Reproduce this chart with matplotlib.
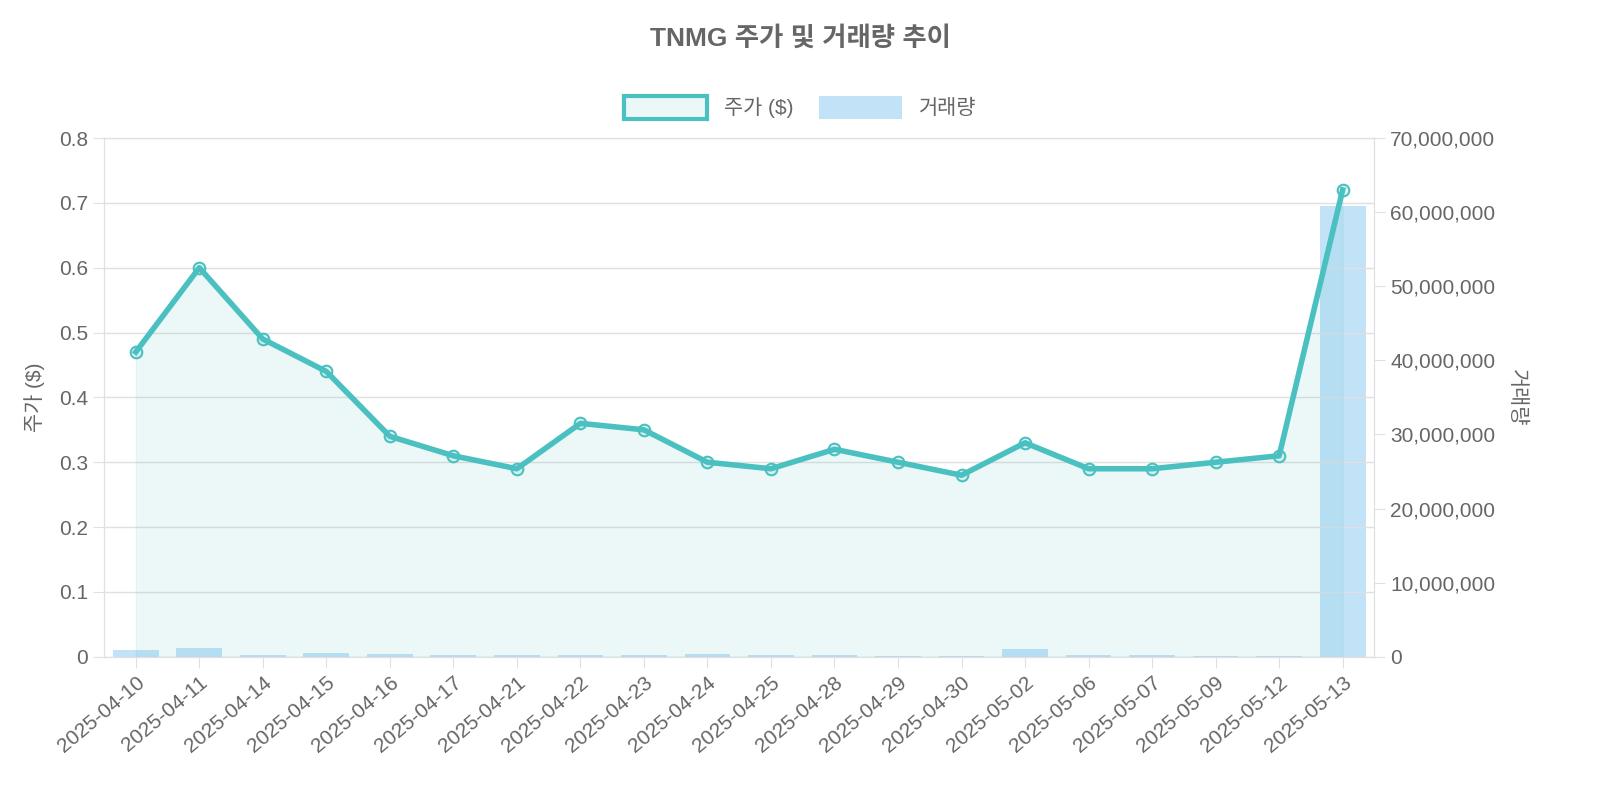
import matplotlib
matplotlib.use("Agg")
import matplotlib.pyplot as plt
from matplotlib.patches import Patch
from matplotlib.ticker import FuncFormatter
from matplotlib import font_manager

names = {f.name for f in font_manager.fontManager.ttflist}
cjk = [n for n in ['Noto Sans CJK KR', 'Noto Sans CJK JP', 'Noto Sans CJK SC', 'Noto Sans CJK TC'] if n in names]
plt.rcParams['font.family'] = ['Liberation Sans'] + cjk + ['DejaVu Sans']

dates = ["2025-04-10","2025-04-11","2025-04-14","2025-04-15","2025-04-16","2025-04-17",
         "2025-04-21","2025-04-22","2025-04-23","2025-04-24","2025-04-25","2025-04-28",
         "2025-04-29","2025-04-30","2025-05-02","2025-05-06","2025-05-07","2025-05-09",
         "2025-05-12","2025-05-13"]
prices = [0.47,0.60,0.49,0.44,0.34,0.31,0.29,0.36,0.35,0.30,0.29,0.32,0.30,0.28,0.33,
          0.29,0.29,0.30,0.31,0.72]
volumes = [900000,1200000,300000,500000,400000,300000,200000,200000,200000,350000,250000,
           200000,100000,100000,1000000,200000,300000,100000,150000,60800000]

grey = '#666666'
fig = plt.figure(figsize=(16, 8), dpi=100)
ax = fig.add_axes([0.065, 0.179, 0.794, 0.6485])
ax2 = ax.twinx()
x = list(range(len(dates)))

ax2.bar(x, volumes, width=0.72, color=(54/255, 162/255, 235/255, 0.3), zorder=1)
ax2.set_ylim(0, 70000000)
ax2.set_yticks(range(0, 70000001, 10000000))
ax2.yaxis.set_major_formatter(FuncFormatter(lambda v, p: f"{int(v):,}"))
ax2.set_ylabel("거래량", color=grey, fontsize=15, rotation=270, labelpad=22)

ax.set_zorder(ax2.get_zorder() + 1)
ax.patch.set_visible(False)
ax.fill_between(x, prices, 0, color=(75/255, 192/255, 192/255, 0.1), zorder=2)
ax.plot(x, prices, color='#4BC0C0', lw=4, zorder=3)
ax.scatter(x, prices, s=70, facecolor=(75/255, 192/255, 192/255, 0.15),
           edgecolor='#4BC0C0', linewidth=1.5, zorder=4)
ax.set_ylim(0, 0.8)
ax.set_yticks([i / 10 for i in range(9)])
ax.yaxis.set_major_formatter(FuncFormatter(lambda v, p: "0" if v == 0 else f"{v:.1f}"))
ax.set_xlim(-0.5, len(dates) - 0.5)
ax.set_xticks(x)
ax.set_xticklabels(dates, rotation=40, ha='right', rotation_mode='anchor')
ax.set_ylabel("주가 ($)", color=grey, fontsize=15, labelpad=10)
ax.grid(axis='y', color='#e0e0e0', lw=1)
ax.set_axisbelow(True)

for a in (ax, ax2):
    for s in a.spines.values():
        s.set_color('#e0e0e0')
    a.tick_params(colors=grey, labelsize=15, length=8, color='#e0e0e0')

fig.text(0.5, 0.952, "TNMG 주가 및 거래량 추이", ha='center', va='center',
         fontsize=19, fontweight='bold', color=grey)
handles = [Patch(facecolor=(75/255, 192/255, 192/255, 0.1), edgecolor='#4BC0C0', linewidth=3),
           Patch(facecolor=(54/255, 162/255, 235/255, 0.3), edgecolor='none')]
fig.legend(handles, ["주가 ($)", "거래량"], loc='center', bbox_to_anchor=(0.5, 0.866),
           ncol=2, frameon=False, fontsize=15, labelcolor=grey,
           handlelength=4, handleheight=1.3, columnspacing=1.2)
fig.savefig("out.png", dpi=100)
